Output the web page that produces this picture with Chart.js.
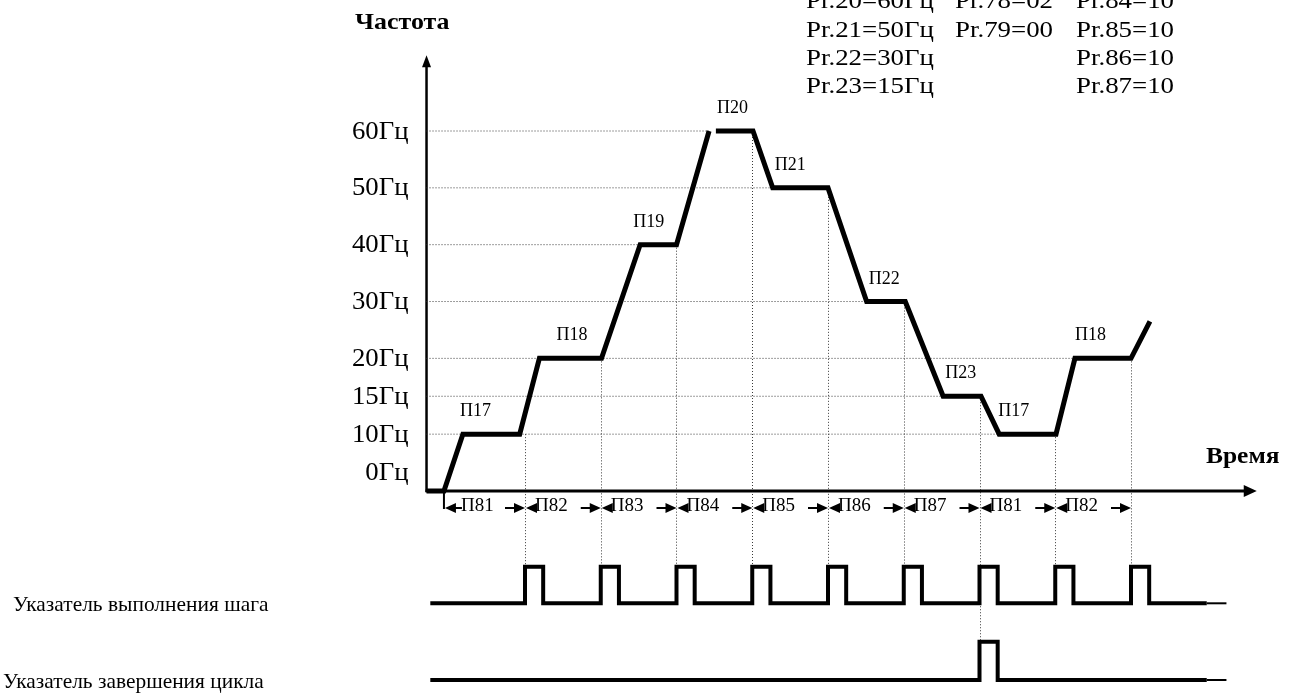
<!DOCTYPE html>
<html>
<head>
<meta charset="utf-8">
<title>Частота / Время</title>
<script src="https://cdn.jsdelivr.net/npm/chart.js@4.4.1/dist/chart.umd.min.js"></script>
<style>
  html, body { margin: 0; padding: 0; background: #fff; }
  canvas { display: block; }
</style>
</head>
<body>
<canvas id="diagram" width="1290" height="693"></canvas>
<script>
// Frequency axis ticks (Hz) and labels
const freqTicks = [0, 10, 15, 20, 30, 40, 50, 60];
const freqTickLabels = ['0Гц', '10Гц', '15Гц', '20Гц', '30Гц', '40Гц', '50Гц', '60Гц'];

// Output frequency: time (units, one step = 10) and Hz; null breaks the line
const freqTime = [-3, -0.7, 1.8, 9.3, 11.9, 20.1, 25.2, 30.0, 34.3, 34.7, 35.2, 40.1, 42.7, 50.0, 55.1, 60.2, 65.2, 70.2, 72.6, 80.1, 82.6, 90.0, 92.5];
const freqHz   = [0,  0,    10,  10,  20,   20,   40,   40,   60,   null, 60,   60,   50,   50,   30,   30,   15,   15,   10,   10,   20,   20,   26.5];

// Steps of the program
const stepNames = ['П17', 'П18', 'П19', 'П20', 'П21', 'П22', 'П23', 'П17', 'П18'];
const stepHz    = [10, 20, 40, 60, 50, 30, 15, 10, 20];
const timeNames = ['П81', 'П82', 'П83', 'П84', 'П85', 'П86', 'П87', 'П81', 'П82'];
const stepBounds = [-0.7, 10, 20, 30, 40, 50, 60, 70, 80, 90];

// Output signals: rising edge times, pulse length, trace extent
const stepPulseAt  = [10, 20, 30, 40, 50, 60, 70, 80, 90];
const cyclePulseAt = [70];
const pulseLength  = 2.4;
const traceStart = -2.5, traceEnd = 100, tailEnd = 102.6;

const paramRows = [
  ['Pr.20=60Гц', 'Pr.78=02', 'Pr.84=10'],
  ['Pr.21=50Гц', 'Pr.79=00', 'Pr.85=10'],
  ['Pr.22=30Гц', '',         'Pr.86=10'],
  ['Pr.23=15Гц', '',         'Pr.87=10']
];
const rowLabels = ['Указатель выполнения шага', 'Указатель завершения цикла'];

// ---- layout ----
const W = 1290, H = 693;
const SERIF = '"Liberation Serif", "Times New Roman", serif';
const freqStops = [0, 1.5, 2.5, 3.5, 5, 6.5, 8, 9.5]; // spacing of the frequency ticks along the axis

function hSpan(v0, p0, v1, p1) {
  const k = (p1 - p0) / (v1 - v0);
  const min = v0 - p0 / k;
  return { min, max: min + W / k };
}
function vSpan(v0, p0, v1, p1) {
  const k = (p0 - p1) / (v1 - v0);
  const min = v0 - (H - p0) / k;
  return { min, max: min + H / k };
}

function hzToLevel(hz) {
  let i = 1;
  while (i < freqTicks.length - 1 && hz > freqTicks[i]) i++;
  const a = freqTicks[i - 1], b = freqTicks[i];
  return freqStops[i - 1] + (hz - a) / (b - a) * (freqStops[i] - freqStops[i - 1]);
}

// linear scale that places Hz values on the uneven tick spacing
class FreqScale extends Chart.LinearScale {
  getPixelForValue(value) { return super.getPixelForValue(hzToLevel(value)); }
  pixelForLevel(level) { return super.getPixelForValue(level); }
}
FreqScale.id = 'freqLevels';
FreqScale.defaults = Chart.LinearScale.defaults;
Chart.register(FreqScale);

const freqPoints = freqTime.map((t, i) => ({ x: t, y: freqHz[i] }));

// dotted level lines run from the axis to the last point where the curve reaches that level
function levelLineEnd(hz) {
  let end = null;
  for (let i = 1; i < freqPoints.length; i++) {
    const p = freqPoints[i], prev = freqPoints[i - 1];
    if (p.y === hz && prev.y !== null && prev.y !== hz) end = p.x;
  }
  return end;
}
// where each plateau is entered (for the step names)
function plateauEntries() {
  const out = [];
  for (let i = 1; i < freqPoints.length - 1; i++) {
    const p = freqPoints[i], prev = freqPoints[i - 1], next = freqPoints[i + 1];
    if (p.y !== null && prev.y !== null && p.y !== prev.y && (next.y === p.y || next.y === null)) out.push(p.x);
  }
  return out;
}
const noteNudge = [-3, 17, -7, 8, 2, 2, 2, -1, 0];

function pulseTrain(rises) {
  const pts = [{ x: traceStart, y: 0 }];
  rises.forEach(t => {
    pts.push({ x: t, y: 0 }, { x: t, y: 1 }, { x: t + pulseLength, y: 1 }, { x: t + pulseLength, y: 0 });
  });
  pts.push({ x: traceEnd, y: 0 });
  return pts;
}

const originT = -3;
const levelDatasets = freqTicks.filter(f => f > 0).map(f => ({
  data: [{ x: originT, y: f }, { x: levelLineEnd(f), y: f }],
  yAxisID: 'f', borderColor: '#3a3a3a', borderWidth: 1, borderDash: [1, 2], order: 10
}));

const lineBase = { pointRadius: 0, tension: 0, fill: false, borderColor: '#000', borderJoinStyle: 'miter', borderCapStyle: 'butt', spanGaps: false };

function arrowHead(ctx, x, y, dx, dy, len, half) {
  const nx = -dy, ny = dx;
  ctx.beginPath();
  ctx.moveTo(x, y);
  ctx.lineTo(x - dx * len + nx * half, y - dy * len + ny * half);
  ctx.lineTo(x - dx * len - nx * half, y - dy * len - ny * half);
  ctx.closePath();
  ctx.fill();
}

// text with optional horizontal stretch
function label(ctx, str, x, y, stretch, align) {
  ctx.save();
  ctx.translate(x, y);
  ctx.scale(stretch || 1, 1);
  ctx.textAlign = align || 'left';
  ctx.fillText(str, 0, 0);
  ctx.restore();
}

const decor = {
  id: 'decor',
  beforeDatasetsDraw(chart) {
    const ctx = chart.ctx;
    const xs = chart.scales.x, fs = chart.scales.f, ss = chart.scales.s, cs = chart.scales.c;
    const ax = xs.getPixelForValue(originT);
    const ay = fs.getPixelForValue(0);
    ctx.save();
    // step boundaries
    ctx.strokeStyle = '#3a3a3a';
    ctx.lineWidth = 1;
    ctx.setLineDash([1, 2]);
    for (let k = 1; k < stepBounds.length; k++) {
      const t = stepBounds[k];
      const x = Math.round(xs.getPixelForValue(t)) + 0.5;
      const top = fs.getPixelForValue(stepHz[k - 1]);
      const bottom = cyclePulseAt.includes(t) ? cs.getPixelForValue(1) : ss.getPixelForValue(1);
      ctx.beginPath();
      ctx.moveTo(x, top);
      ctx.lineTo(x, bottom);
      ctx.stroke();
    }
    ctx.setLineDash([]);
    // axes
    ctx.strokeStyle = '#000';
    ctx.fillStyle = '#000';
    ctx.lineWidth = 2.5;
    const yTop = fs.pixelForLevel(11.5);
    const xEnd = xs.getPixelForValue(106.6);
    ctx.beginPath();
    ctx.moveTo(ax, ay + 1);
    ctx.lineTo(ax, yTop + 8);
    ctx.stroke();
    arrowHead(ctx, ax, yTop, 0, -1, 12, 4.5);
    ctx.lineWidth = 3;
    ctx.beginPath();
    ctx.moveTo(ax - 1, ay);
    ctx.lineTo(xEnd - 8, ay);
    ctx.stroke();
    arrowHead(ctx, xEnd, ay, 1, 0, 13, 6);
    ctx.restore();
  },
  afterDatasetsDraw(chart) {
    const ctx = chart.ctx;
    const xs = chart.scales.x, fs = chart.scales.f, ss = chart.scales.s, cs = chart.scales.c;
    const ax = xs.getPixelForValue(originT);
    const ay = fs.getPixelForValue(0);
    ctx.save();
    ctx.fillStyle = '#000';
    ctx.strokeStyle = '#000';

    // tick labels
    ctx.font = '25px ' + SERIF;
    ctx.textBaseline = 'middle';
    freqTicks.forEach((f, i) => {
      const y = f === 0 ? ay - 19 : fs.getPixelForValue(f);
      label(ctx, freqTickLabels[i], ax - 18, y + 1, 1.07, 'right');
    });

    // axis titles
    ctx.font = 'bold 24px ' + SERIF;
    ctx.textBaseline = 'alphabetic';
    label(ctx, 'Частота', 355, 29, 1.08);
    label(ctx, 'Время', 1206, 463, 1.06);

    // step names over the plateaus
    ctx.font = '18px ' + SERIF;
    const entries = plateauEntries();
    stepNames.forEach((name, i) => {
      const x = xs.getPixelForValue(entries[i]) + noteNudge[i];
      const y = fs.getPixelForValue(stepHz[i]) - 18;
      label(ctx, name, x, y);
    });

    // step time row
    const rowY = ay + 17;
    ctx.font = '19px ' + SERIF;
    ctx.lineWidth = 2;
    for (let k = 0; k < timeNames.length; k++) {
      const a = xs.getPixelForValue(stepBounds[k]);
      const b = xs.getPixelForValue(stepBounds[k + 1]);
      if (k === 0) {
        ctx.beginPath();
        ctx.moveTo(a, ay);
        ctx.lineTo(a, rowY + 1);
        ctx.stroke();
      }
      const txt = a + (k === 0 ? 17 : 10);
      arrowHead(ctx, a + 1, rowY, -1, 0, 11, 5);
      ctx.beginPath();
      ctx.moveTo(a + 8, rowY);
      ctx.lineTo(txt + 1, rowY);
      ctx.stroke();
      label(ctx, timeNames[k], txt, rowY + 3);
      ctx.beginPath();
      ctx.moveTo(b - 20, rowY);
      ctx.lineTo(b - 8, rowY);
      ctx.stroke();
      arrowHead(ctx, b, rowY, 1, 0, 11, 5);
    }

    // signal names
    ctx.font = '21px ' + SERIF;
    label(ctx, rowLabels[0], 13, ss.getPixelForValue(0) + 8, 1.02);
    label(ctx, rowLabels[1], 3, cs.getPixelForValue(0) + 8, 1.02);

    // parameter table
    ctx.font = '24px ' + SERIF;
    const cols = [806, 955, 1076];
    paramRows.forEach((row, r) => {
      row.forEach((cell, c) => { if (cell) label(ctx, cell, cols[c], 8.4 + r * 28.3, 1.12); });
    });
    ctx.restore();
  }
};

new Chart(document.getElementById('diagram'), {
  type: 'line',
  data: {
    datasets: [
      Object.assign({ data: freqPoints, yAxisID: 'f', borderWidth: 5, order: 0 }, lineBase),
      ...levelDatasets,
      Object.assign({ data: pulseTrain(stepPulseAt), yAxisID: 's', borderWidth: 4, order: 1 }, lineBase),
      Object.assign({ data: pulseTrain(cyclePulseAt), yAxisID: 'c', borderWidth: 4, order: 1 }, lineBase),
      Object.assign({ data: [{ x: traceEnd, y: 0 }, { x: tailEnd, y: 0 }], yAxisID: 's', borderWidth: 2, order: 1 }, lineBase),
      Object.assign({ data: [{ x: traceEnd, y: 0 }, { x: tailEnd, y: 0 }], yAxisID: 'c', borderWidth: 2, order: 1 }, lineBase)
    ].map(d => Object.assign({ pointRadius: 0, tension: 0, fill: false }, d))
  },
  options: {
    responsive: false,
    animation: false,
    devicePixelRatio: 1,
    layout: { padding: 0 },
    plugins: { legend: { display: false }, tooltip: { enabled: false }, title: { display: false } },
    elements: { line: { borderColor: '#000' }, point: { radius: 0 } },
    scales: {
      x: Object.assign({ type: 'linear', display: false }, hSpan(10, 525, 90, 1131)),
      f: Object.assign({ type: 'freqLevels', display: false, position: 'left' }, vSpan(0, 491, 9.5, 131)),
      s: Object.assign({ type: 'linear', display: false, position: 'left' }, vSpan(0, 603.3, 1, 566.7)),
      c: Object.assign({ type: 'linear', display: false, position: 'left' }, vSpan(0, 680, 1, 641.7))
    }
  },
  plugins: [decor]
});
</script>
</body>
</html>
